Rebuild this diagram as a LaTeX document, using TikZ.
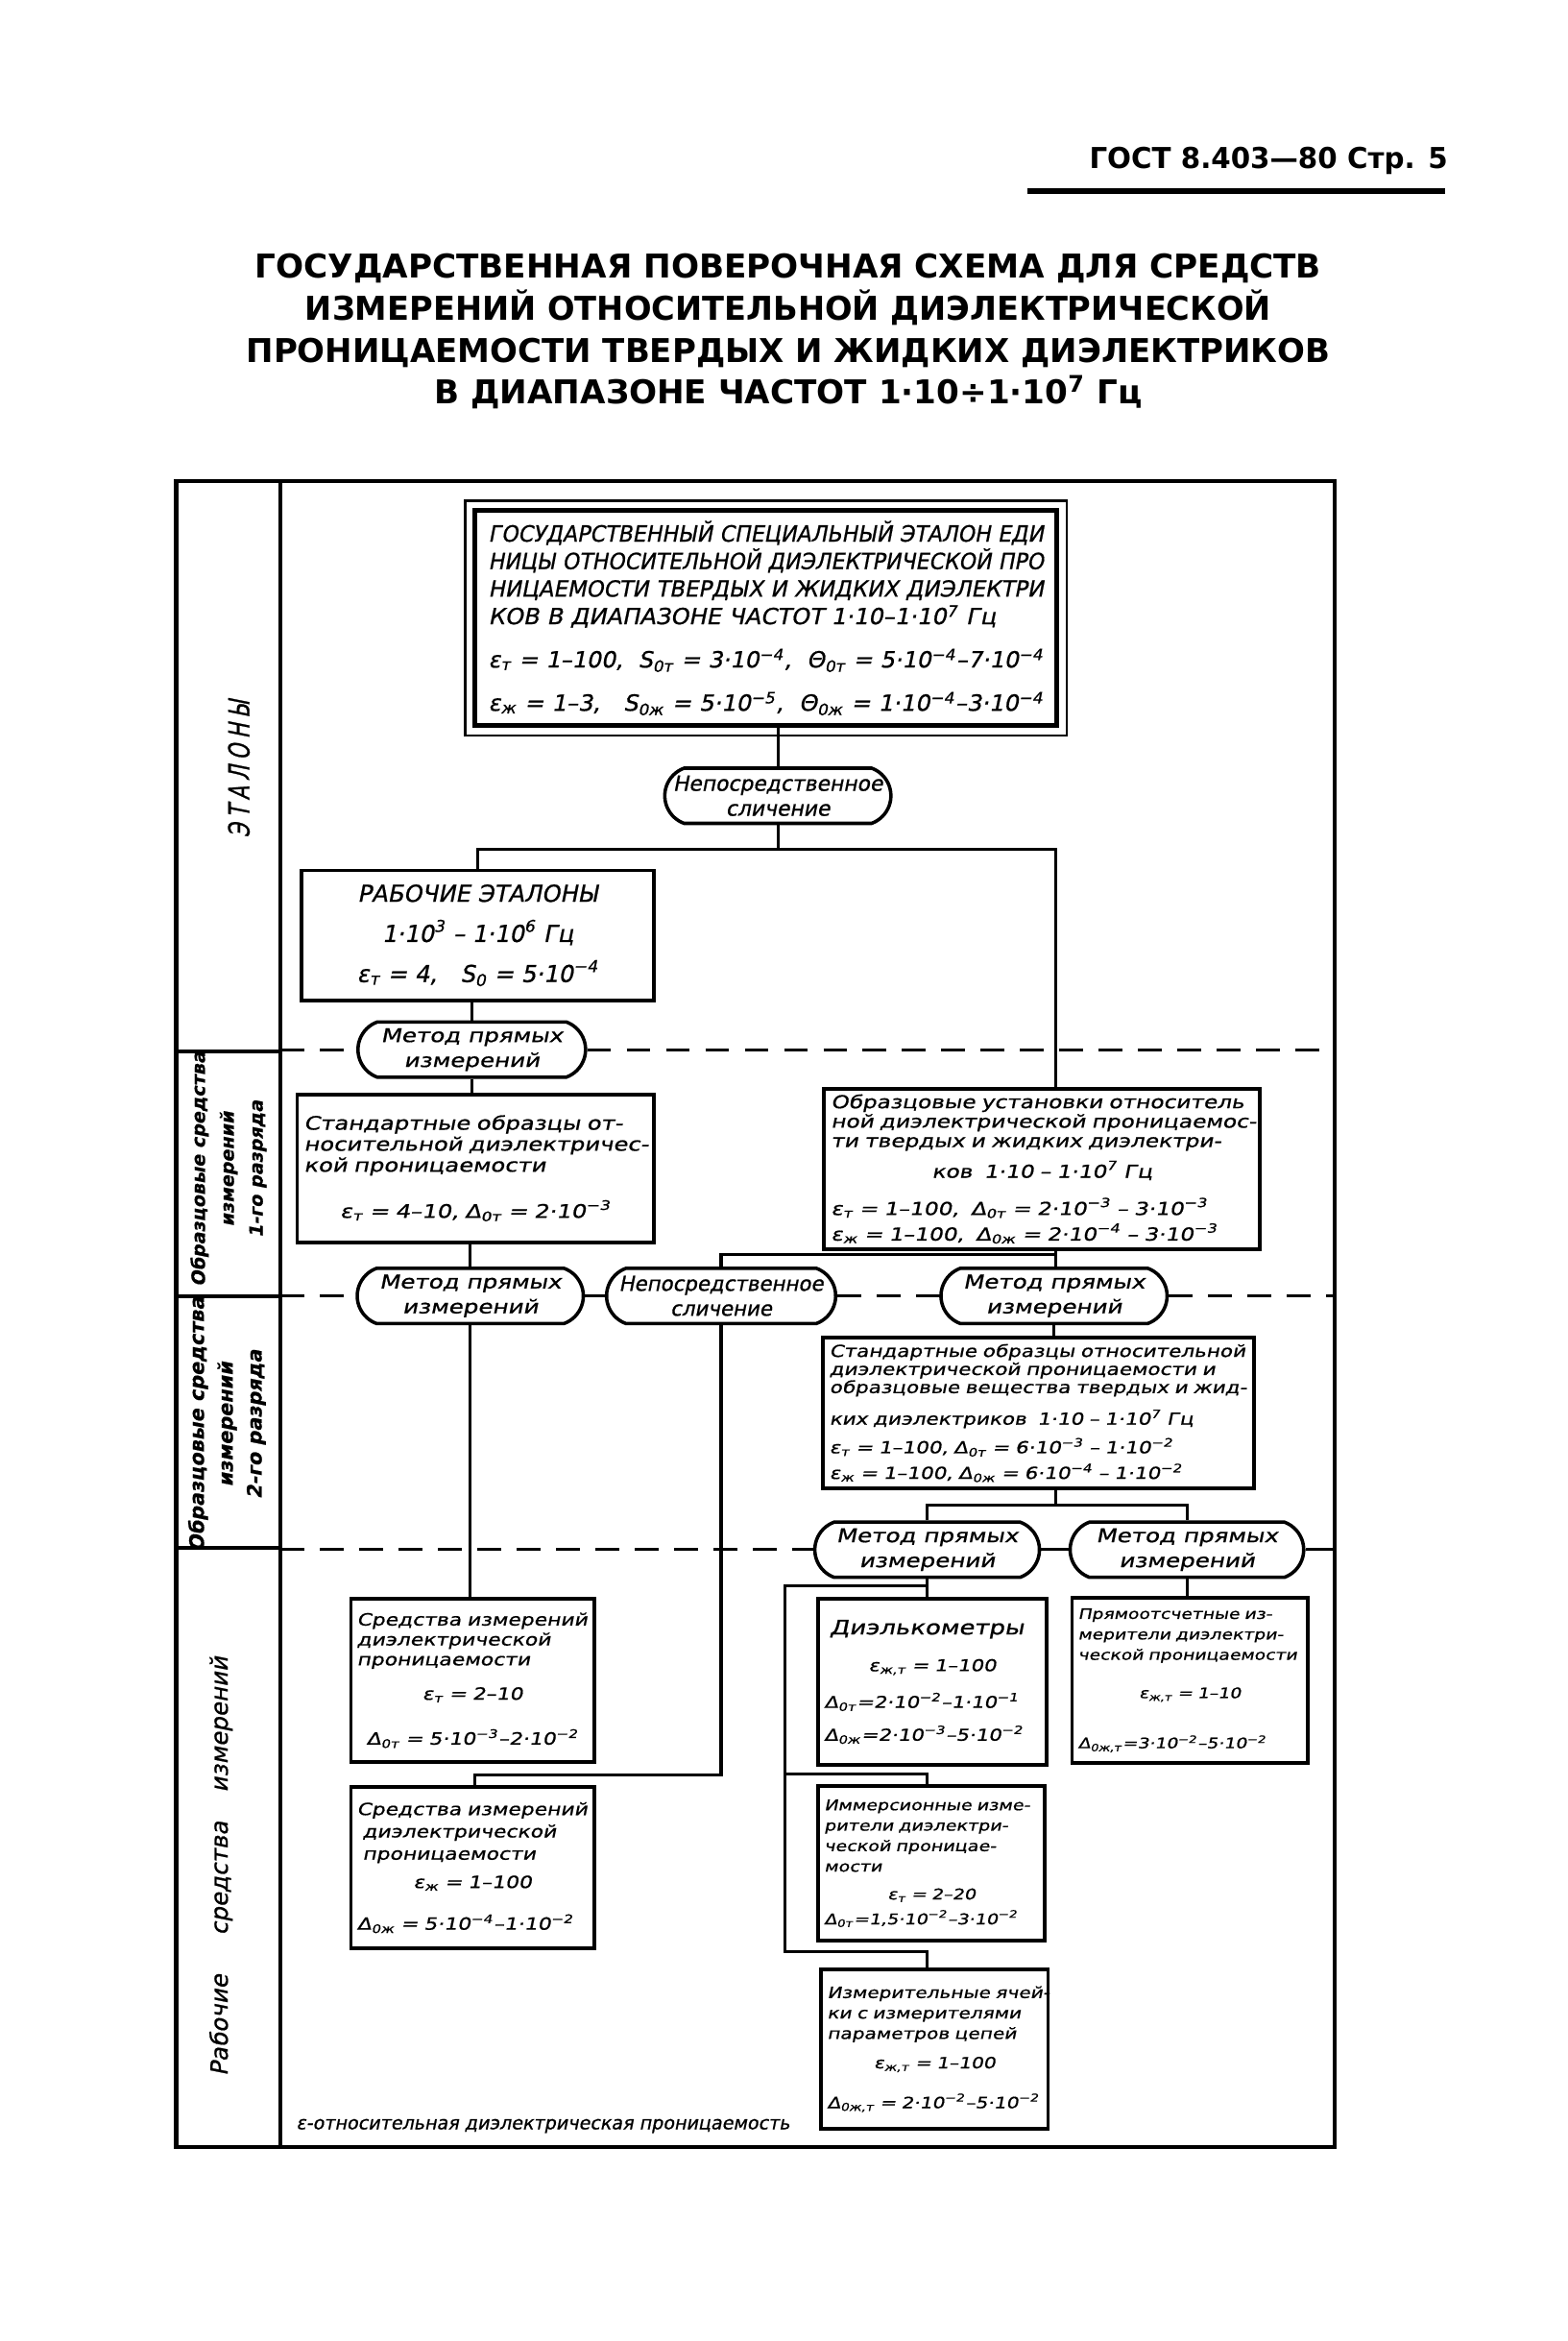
\documentclass[tikz,border=0pt]{standalone}
\usepackage{fontspec}
\usepackage{graphicx}
\usetikzlibrary{shapes.misc}
\setmainfont{DejaVu Sans}
\newfontfamily\gf[FakeSlant=0.2,FakeBold=0.8]{DejaVu Sans}
\newfontfamily\gfw[FakeSlant=0.2,FakeStretch=1.25,FakeBold=0.8]{DejaVu Sans}
\newfontfamily\gfn[FakeSlant=0.2,FakeStretch=0.7,FakeBold=0.8]{DejaVu Sans}
\newfontfamily\hb{DejaVu Sans}
\newlength\pxu \setlength\pxu{0.02cm}
\newcommand\fitw[2]{\resizebox{#1\pxu}{\height}{#2}}
\newcommand\lo[1]{\textsubscript{#1}}
\newcommand\hi[1]{\textsuperscript{#1}}
\newcommand\fs[2]{\fontsize{#1}{#2}\selectfont}
\newcommand\Ll[1]{\makebox[\linewidth][l]{#1}}
\newcommand\Lc[1]{\makebox[\linewidth][c]{#1}}
\newcommand\lsp{\hspace{2.1pt}}
\begin{document}
\begin{tikzpicture}[x=0.02cm,y=-0.02cm,
  cn/.style={line width=1.1pt},
  dsh/.style={line width=1.1pt, dash pattern=on 9pt off 6pt},
  frm/.style={line width=1.5pt},
  bx/.style={draw, line width=1.4pt, inner sep=2pt},
  rn/.style={draw, rounded rectangle, rounded rectangle arc length=140, line width=1.3pt, inner sep=1pt, minimum height=0.74cm, align=center, fill=white},
  lbl/.style={rotate=90, align=center, inner sep=0pt}]
\fill[white] (0,0) rectangle (1050,1568);
\useasboundingbox (0,0) rectangle (1050,1568);

% header and title
\node[anchor=east, inner sep=0pt, font=\hb\bfseries\fs{11}{13}] (hdr) at (970,108) {\fitw{240}{ГОСТ 8.403—80 Стр. 5}};
\draw[line width=2pt] (688,128) -- (968,128);
\node[align=center, inner sep=0pt, font=\hb\bfseries\fs{12.5}{16}] (title) at (528,222)
 {\fitw{714}{ГОСУДАРСТВЕННАЯ ПОВЕРОЧНАЯ СХЕМА ДЛЯ СРЕДСТВ}\\
  \fitw{647}{ИЗМЕРЕНИЙ ОТНОСИТЕЛЬНОЙ ДИЭЛЕКТРИЧЕСКОЙ}\\
  \fitw{726}{ПРОНИЦАЕМОСТИ ТВЕРДЫХ И ЖИДКИХ ДИЭЛЕКТРИКОВ}\\
  \fitw{474}{В ДИАПАЗОНЕ ЧАСТОТ 1·10÷1·10\hi{7} Гц}};

% frame
\draw[frm] (118,322) rectangle (894,1438);
\draw[frm] (188,322) -- (188,1438);
\draw[frm] (118,704) -- (188,704);
\draw[frm] (118,868) -- (188,868);
\draw[frm] (118,1037) -- (188,1037);
\coordinate (sl) at (188,0);
\coordinate (fr) at (894,0);

% strip labels
\node[lbl, font=\gfn\fs{11}{12}] (lblA) at (160,515) {Э\lsp Т\lsp А\lsp Л\lsp О\lsp Н\lsp Ы};
\node[lbl, font=\gf\bfseries\fs{7}{11}] (lblB) at (153,783) {Образцовые средства\\измерений\\1-го разряда};
\node[lbl, font=\gf\bfseries\fs{7.6}{11}] (lblC) at (152,954) {Образцовые средства\\измерений\\2-го разряда};
\node[lbl, font=\gf\fs{9}{10}] (lblD) at (148,1250) {Рабочие\hspace{15pt}средства\hspace{11pt}измерений};

% main standard
\node[draw, line width=1.8pt, minimum width=7.8cm, minimum height=2.88cm, inner sep=0pt,
      text width=7.44cm, align=left, font=\gf\fs{8.5}{10.5}] (etalon) at (513,414)
 {\fitw{372}{ГОСУДАРСТВЕННЫЙ СПЕЦИАЛЬНЫЙ ЭТАЛОН ЕДИ}\\
  \fitw{372}{НИЦЫ ОТНОСИТЕЛЬНОЙ ДИЭЛЕКТРИЧЕСКОЙ ПРО}\\
  \fitw{372}{НИЦАЕМОСТИ ТВЕРДЫХ И ЖИДКИХ ДИЭЛЕКТРИ}\\
  \fitw{340}{КОВ В ДИАПАЗОНЕ ЧАСТОТ 1·10–1·10\hi{7} Гц}\\[6pt]
  \fitw{372}{ε\lo{т} = 1–100,\ \ S\lo{0т} = 3·10\hi{−4},\ \ Θ\lo{0т} = 5·10\hi{−4}–7·10\hi{−4}}\\[6pt]
  \fitw{372}{ε\lo{ж} = 1–3,\ \ \ S\lo{0ж} = 5·10\hi{−5},\ \ Θ\lo{0ж} = 1·10\hi{−4}–3·10\hi{−4}}};
\draw[line width=1pt] ([shift={(-5,-5)}]etalon.north west) rectangle ([shift={(5,5)}]etalon.south east);

\node[rn, minimum width=3.1cm, font=\gf\fs{8}{9.5}] (n1) at (521,533) {Непосредственное\\сличение};

\node[bx, minimum width=4.72cm, minimum height=1.74cm, align=center, font=\gf\fs{8.9}{15.3}] (rab) at (320,626.5)
 {РАБОЧИЕ ЭТАЛОНЫ\\ 1·10\hi{3} – 1·10\hi{6} Гц\\ ε\lo{т} = 4,\quad S\lo{0} = 5·10\hi{−4}};

\node[rn, minimum width=3.12cm, font=\gfw\fs{7.2}{9.5}] (m1) at (316,703) {Метод прямых\\измерений};

\node[bx, minimum width=4.78cm, minimum height=1.98cm, text width=4.6cm, align=left, font=\gfw\fs{7.1}{8}] (left1) at (318.5,782.5)
 {\Ll{Стандартные образцы от-}\\ \Ll{носительной диэлектричес-}\\ \Ll{кой проницаемости}\\[8.4pt]
  \Lc{ε\lo{т} = 4–10, Δ\lo{0т} = 2·10\hi{−3}}};

\node[bx, minimum width=5.84cm, minimum height=2.0cm, text width=5.66cm, align=left, font=\gfw\fs{6.8}{7.4}] (right1) at (698,783)
 {\Ll{Образцовые установки относитель}\\ \Ll{ной диэлектрической проницаемос-}\\ \Ll{ти твердых и жидких диэлектри-}\\[2.8pt]
  \Lc{ков\ \ 1·10 – 1·10\hi{7} Гц}\\[5.7pt]
  \Ll{ε\lo{т} = 1–100,\ \ Δ\lo{0т} = 2·10\hi{−3} – 3·10\hi{−3}}\\[1pt]
  \Ll{ε\lo{ж} = 1–100,\ \ Δ\lo{0ж} = 2·10\hi{−4} – 3·10\hi{−3}}};

\node[rn, minimum width=3.1cm, font=\gfw\fs{7.2}{9.5}] (m2) at (315,868) {Метод прямых\\измерений};
\node[rn, minimum width=3.14cm, font=\gf\fs{7.8}{9.5}] (n2) at (483,868) {Непосредственное\\сличение};
\node[rn, minimum width=3.1cm, font=\gfw\fs{7.2}{9.5}] (m3) at (706,868) {Метод прямых\\измерений};

\node[bx, minimum width=5.78cm, minimum height=2.02cm, text width=5.6cm, align=left, font=\gfw\fs{6.3}{6.9}] (std2) at (695.5,946.5)
 {\Ll{Стандартные образцы относительной}\\ \Ll{диэлектрической проницаемости и}\\ \Ll{образцовые вещества твердых и жид-}\\[4pt]
  \Ll{ких диэлектриков\ \ 1·10 – 1·10\hi{7} Гц}\\[2.8pt]
  \Ll{ε\lo{т} = 1–100, Δ\lo{0т} = 6·10\hi{−3} – 1·10\hi{−2}}\\[1.7pt]
  \Ll{ε\lo{ж} = 1–100, Δ\lo{0ж} = 6·10\hi{−4} – 1·10\hi{−2}}};

\node[rn, minimum width=3.08cm, font=\gfw\fs{7.2}{9.5}] (m4) at (621,1038) {Метод прямых\\измерений};
\node[rn, minimum width=3.2cm, font=\gfw\fs{7.2}{9.5}] (m5) at (795,1038) {Метод прямых\\измерений};

\node[bx, minimum width=3.26cm, minimum height=2.18cm, text width=3.1cm, align=left, font=\gfw\fs{6.4}{7.6}] (boxA) at (316.5,1125.5)
 {\Ll{Средства измерений}\\ \Ll{диэлектрической}\\ \Ll{проницаемости}\\[5.5pt]
  \Lc{ε\lo{т} = 2–10}\\[9.5pt]
  \Lc{Δ\lo{0т} = 5·10\hi{−3}–2·10\hi{−2}}};

\node[bx, minimum width=3.26cm, minimum height=2.16cm, text width=3.1cm, align=left, font=\gfw\fs{6.4}{8.5}] (boxB) at (316.5,1251)
 {\Ll{Средства измерений}\\ \Ll{\ диэлектрической}\\ \Ll{\ проницаемости}\\[2.3pt]
  \Lc{ε\lo{ж} = 1–100}\\[7.4pt]
  \Ll{Δ\lo{0ж} = 5·10\hi{−4}–1·10\hi{−2}}};

\node[bx, minimum width=3.06cm, minimum height=2.22cm, text width=2.9cm, align=left, font=\gfw\fs{6.2}{14}] (dielk) at (624.5,1126.5)
 {\Ll{\fs{7.6}{14}\ Диэлькометры}\\ \Lc{ε\lo{ж,т} = 1–100}\\
  \Ll{Δ\lo{0т}=2·10\hi{−2}–1·10\hi{−1}}\\[-1.5pt]
  \Ll{Δ\lo{0ж}=2·10\hi{−3}–5·10\hi{−2}}};

\node[bx, minimum width=3.04cm, minimum height=2.08cm, text width=2.88cm, align=left, font=\gfw\fs{5.6}{7.8}] (imm) at (624,1248)
 {\Ll{Иммерсионные изме-}\\ \Ll{рители диэлектри-}\\ \Ll{ческой проницае-}\\ \Ll{мости}\\[2.8pt]
  \Lc{ε\lo{т} = 2–20}\\[1.7pt]
  \Ll{Δ\lo{0т}=1,5·10\hi{−2}–3·10\hi{−2}}};

\node[bx, minimum width=3.04cm, minimum height=2.14cm, text width=2.88cm, align=left, font=\gfw\fs{5.9}{7.8}] (izm) at (626,1372.5)
 {\Ll{Измерительные ячей-}\\ \Ll{ки с измерителями}\\ \Ll{параметров цепей}\\[3.4pt]
  \Lc{ε\lo{ж,т} = 1–100}\\[7.4pt]
  \Ll{Δ\lo{0ж,т} = 2·10\hi{−2}–5·10\hi{−2}}};

\node[bx, minimum width=3.16cm, minimum height=2.22cm, text width=3.0cm, align=left, font=\gfw\fs{5.5}{7.8}] (pryamo) at (797,1125.5)
 {\Ll{Прямоотсчетные из-}\\ \Ll{мерители диэлектри-}\\ \Ll{ческой проницаемости}\\[6.8pt]
  \Lc{ε\lo{ж,т} = 1–10}\\[11.3pt]
  \Ll{Δ\lo{0ж,т}=3·10\hi{−2}–5·10\hi{−2}}};

\node[anchor=west, inner sep=0pt, font=\gf\fs{7}{8}] (note) at (198,1424) {ε-относительная диэлектрическая проницаемость};

% dashed level lines
\draw[dsh] (m1.west -| sl) -- (m1.west);
\draw[dsh] (m1.east) -- (m1.east -| fr);
\draw[dsh] (m2.west -| sl) -- (m2.west);
\draw[cn] (m2.east) -- (n2.west);
\draw[dsh] (n2.east) -- (m3.west);
\draw[dsh] (m3.east) -- (m3.east -| fr);
\draw[dsh] (m4.west -| sl) -- (m4.west);
\draw[cn] (m4.east) -- (m5.west);
\draw[cn] (m5.east) -- (m5.east -| fr);

% connectors
\coordinate (j1) at (521,569);
\coordinate (j1r) at (707,569);
\coordinate (j2) at (707,840);
\coordinate (j3) at (707,1008);
\coordinate (j4) at (483,1189);
\coordinate (j4l) at (318,1189);
\coordinate (j5) at (621,1062);
\coordinate (j5l) at (526,1062);
\coordinate (j6l) at (526,1188);
\coordinate (j7l) at (526,1307);

\draw[cn] (n1.north |- etalon.south) -- (n1.north);
\draw[cn] (n1.south) -- (j1);
\draw[cn] (rab.north) -- (rab.north |- j1) -- (j1r) -- (j1r |- right1.north);
\draw[cn] (m1.north |- rab.south) -- (m1.north);
\draw[cn] (m1.south) -- (m1.south |- left1.north);
\draw[cn] (m2.north |- left1.south) -- (m2.north);
\draw[cn] (j2 |- right1.south) -- (j2 |- m3.north);
\draw[cn] (j2) -- (n2.north |- j2) -- (n2.north);
\draw[cn] (m3.south) -- (m3.south |- std2.north);
\draw[cn] (j3 |- std2.south) -- (j3);
\draw[cn] (m4.north) -- (m4.north |- j3) -- (m5.north |- j3) -- (m5.north);
\draw[cn] (m2.south) -- (m2.south |- boxA.north);
\draw[cn] (n2.south) -- (j4) -- (j4l) -- (j4l |- boxB.north);
\draw[cn] (m4.south) -- (m4.south |- dielk.north);
\draw[cn] (j5) -- (j5l) -- (j7l) -- (j7l -| m4.south) -- (izm.north -| m4.south);
\draw[cn] (j6l) -- (j6l -| m4.south) -- (imm.north -| m4.south);
\draw[cn] (m5.south) -- (m5.south |- pryamo.north);
\end{tikzpicture}
\end{document}
